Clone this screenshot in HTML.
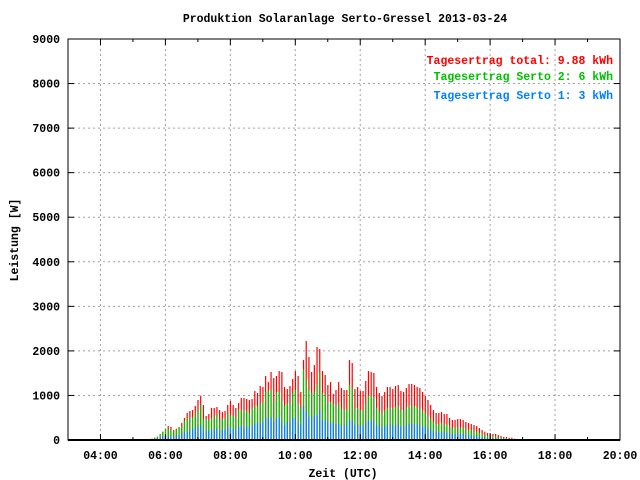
<!DOCTYPE html>
<html><head><meta charset="utf-8"><style>
html,body{margin:0;padding:0;background:#fff;}
svg{display:block;font-family:"Liberation Mono","DejaVu Sans Mono",monospace;font-weight:bold;}
</style></head><body>
<svg id="chart" width="640" height="480" viewBox="0 0 640 480" xmlns="http://www.w3.org/2000/svg">
<rect x="0" y="0" width="640" height="480" fill="#fff"/>
<g id="grid"></g>
<g id="bars"></g>
<g id="axes"></g>
<text x="345" y="22" font-size="11.5" text-anchor="middle">Produktion Solaranlage Serto-Gressel 2013-03-24</text>
<text x="0" y="0" font-size="11.5" text-anchor="middle" transform="translate(18,240) rotate(-90)">Leistung [W]</text>
<text x="343" y="477" font-size="11.5" text-anchor="middle">Zeit (UTC)</text>
<g font-size="11.5" text-anchor="end">
<text x="613" y="64" fill="#ff0000">Tagesertrag total: 9.88 kWh</text>
<text x="613" y="80" fill="#00c000">Tagesertrag Serto 2: 6 kWh</text>
<text x="613" y="99" fill="#0080ff">Tagesertrag Serto 1: 3 kWh</text>
</g>
</svg>
<script>
const startMinute = 335; // 05:35
const stepMinutes = 5;
const totalW = [30,52,75,135,187,254,314,292,224,254,292,381,494,606,651,673,763,898,995,785,539,583,718,718,740,673,628,651,785,875,785,718,830,942,942,920,898,920,1100,1055,1212,1189,1436,1301,1526,1391,1436,1548,1526,1189,1144,1212,1369,1548,1436,1077,1795,2222,1863,1526,1683,2087,2042,1548,1459,1234,1301,1032,1122,
1301,1167,1122,1122,1795,1728,1144,1189,1100,1100,1324,1548,1526,1503,1189,1055,987,1077,1189,1189,1144,1212,1234,1100,1077,1167,1257,1257,1234,1189,1167,1077,987,898,785,673,606,606,628,583,583,494,449,449,471,471,449,404,381,359,337,314,269,224,187,157,157,135,135,112,90,67,67,52,52,30,22];
const serto2W = [30,45,70,135,172,247,262,224,202,239,269,322,426,486,494,509,613,636,793,464,464,449,486,524,561,449,471,486,598,554,539,509,688,651,658,651,598,703,763,740,808,860,1085,1100,1122,860,1070,1077,875,763,823,823,1062,1122,823,711,1586,1361,1122,1047,1062,1249,1511,1047,1002,838,860,800,763,
830,700,680,690,1240,1150,700,720,660,670,820,1000,980,960,720,640,600,660,720,730,700,740,760,670,650,720,780,770,760,720,700,650,600,540,470,400,360,360,380,350,350,300,270,270,280,280,270,240,230,215,200,190,160,135,110,95,95,80,80,67,54,40,40,31,31,18,13];
const serto1W = [15,20,30,60,90,90,90,90,75,90,105,150,187,194,202,254,277,299,337,209,209,209,224,239,262,209,224,239,299,254,254,224,299,322,299,299,299,314,374,396,374,411,494,486,509,411,494,509,411,337,411,411,494,509,389,337,763,636,509,509,546,561,673,449,449,411,389,374,359,
360,330,330,330,440,440,330,340,320,320,380,440,440,430,340,300,290,300,340,340,330,340,340,310,300,330,360,360,350,340,330,310,290,260,230,200,180,180,190,170,170,150,130,130,140,140,130,120,110,100,95,90,75,65,55,45,45,40,40,32,26,20,20,15,15,9,6];
const yTicks = [0,1000,2000,3000,4000,5000,6000,7000,8000,9000];
const xTickLabels = ["04:00","06:00","08:00","10:00","12:00","14:00","16:00","18:00","20:00"];
const xTickHours = [4,6,8,10,12,14,16,18,20];

const L=68,R=620,T=39,B=440;
const xScale = h => L + (h-3)*(R-L)/17;
const yScale = v => B - v*(B-T)/9000;
const NS="http://www.w3.org/2000/svg";
function mk(tag,attrs,parent){const e=document.createElementNS(NS,tag);for(const k in attrs)e.setAttribute(k,attrs[k]);parent.appendChild(e);return e;}
const grid=document.getElementById('grid'),bars=document.getElementById('bars'),axes=document.getElementById('axes');

yTicks.forEach((v,i)=>{
  const y=yScale(v);
  if(v>0&&v<9000){const g=mk('line',{x1:L,x2:R,y1:y,y2:y,stroke:'#a0a0a0','stroke-dasharray':'2,3'},grid);
  
  }
  const t=mk('line',{x1:L,x2:L+6,y1:y,y2:y,stroke:'#000'},axes);
  
  
  const t2=mk('line',{x1:R-6,x2:R,y1:y,y2:y,stroke:'#000'},axes);
  
  
  const lb=mk('text',{x:L-8,y:y+4,'font-size':'11.5','text-anchor':'end'},axes);
  lb.textContent=v;
  
  
});
xTickHours.forEach((h,i)=>{
  const x=xScale(h);
  if(h<20){const g=mk('line',{x1:x,x2:x,y1:T,y2:B,stroke:'#a0a0a0','stroke-dasharray':'2,3'},grid);
  
  }
  const t=mk('line',{x1:x,x2:x,y1:B-6,y2:B,stroke:'#000'},axes);
  
  
  const t2=mk('line',{x1:x,x2:x,y1:T,y2:T+6,stroke:'#000'},axes);
  
  
  const m=xScale(h+1);
  if(h<20){const mt=mk('line',{x1:m,x2:m,y1:B-3,y2:B,stroke:'#000'},axes);
  
  
  const mt2=mk('line',{x1:m,x2:m,y1:T,y2:T+3,stroke:'#000'},axes);
  
  }
  const lb=mk('text',{x:x,y:B+19,'font-size':'11.5','text-anchor':'middle'},axes);
  lb.textContent=xTickLabels[i];
  
  
});
const series=[[totalW,'#ff0000','bar-total'],[serto2W,'#00c000','bar-serto2'],[serto1W,'#0080ff','bar-serto1']];
series.forEach(([arr,col,name])=>{
  arr.forEach((v,i)=>{
    const h=(startMinute+i*stepMinutes)/60;
    const x=xScale(h), y=yScale(v);
    const r=mk('rect',{x:(x-0.5).toFixed(2),y:y.toFixed(2),width:1.2,height:(B-y).toFixed(2),fill:col},bars);
    
    
  });
});
const fr=mk('rect',{x:L,y:T,width:R-L,height:B-T,fill:'none',stroke:'#000','stroke-width':1},axes);


const bl=mk('line',{x1:L,x2:R,y1:B,y2:B,stroke:'#000','stroke-width':2},axes);


</script>
</body></html>
